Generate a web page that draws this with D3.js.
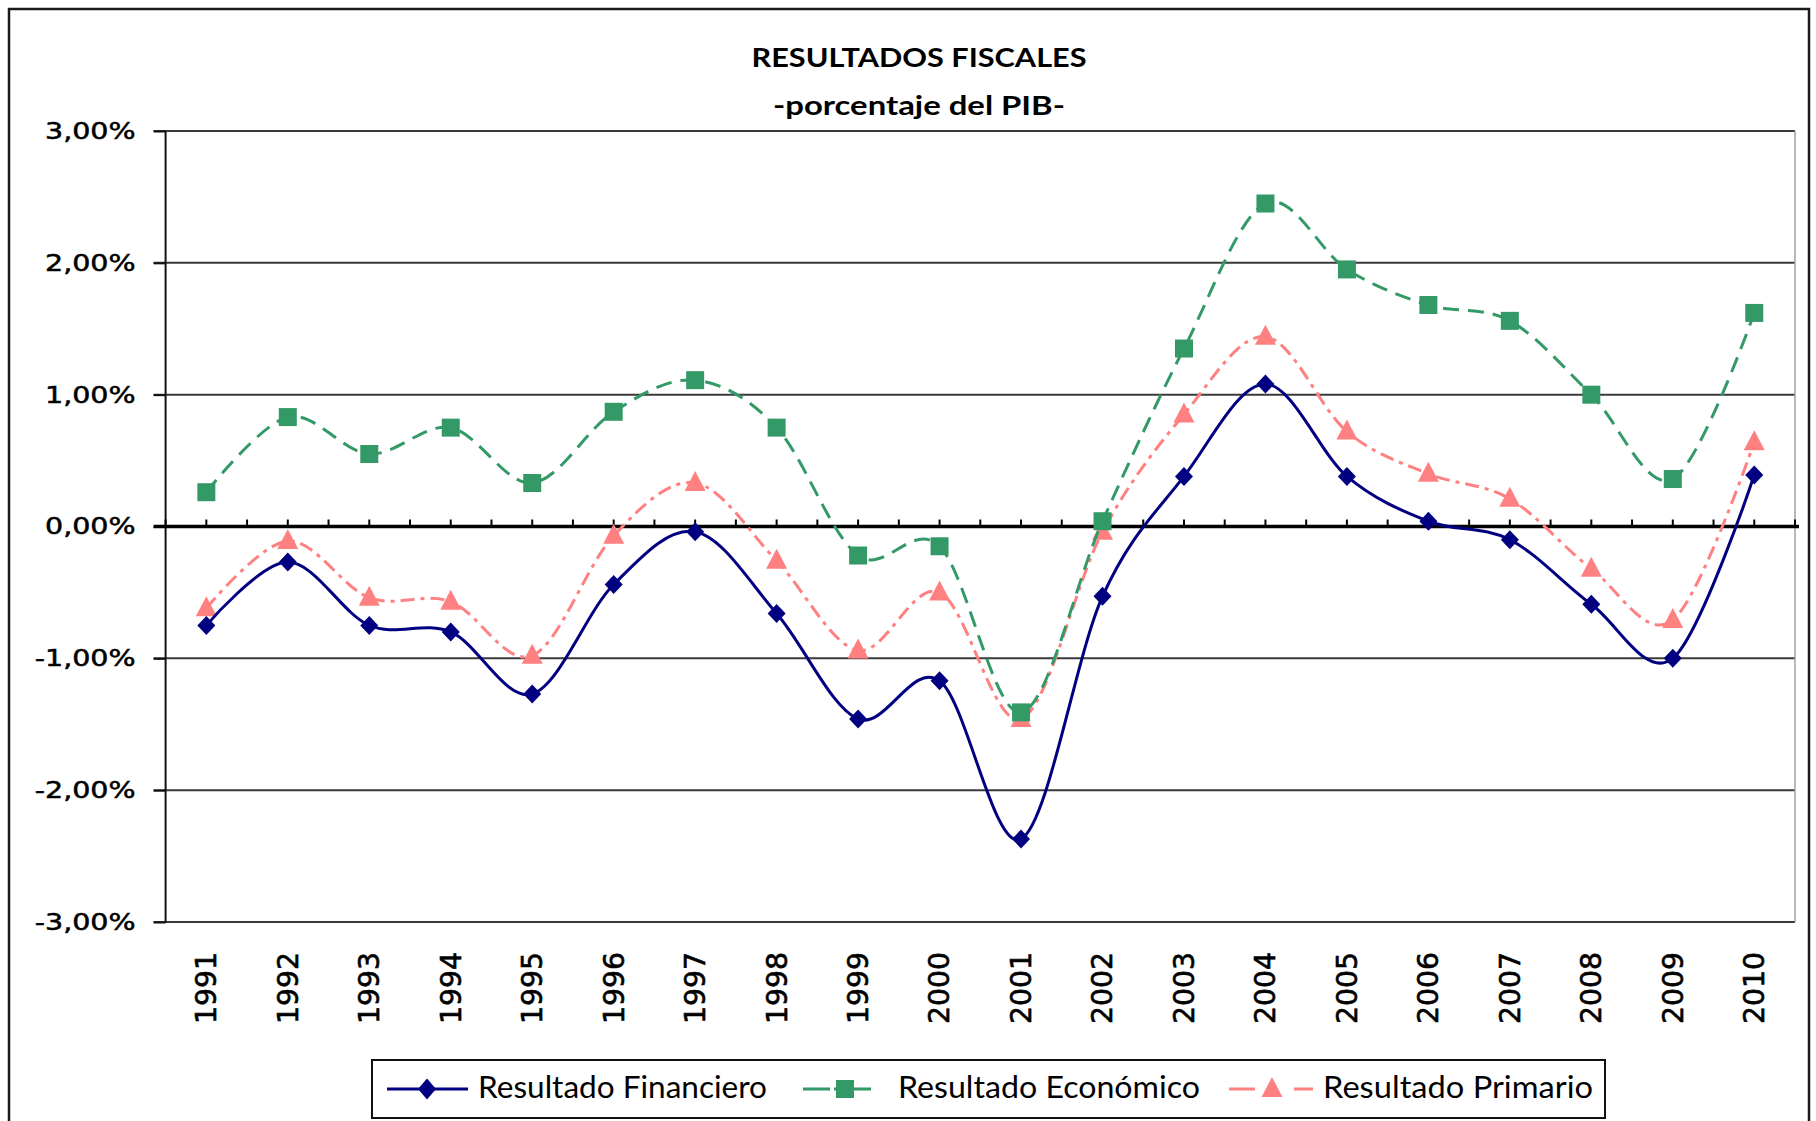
<!DOCTYPE html>
<html>
<head>
<meta charset="utf-8">
<script src="https://cdn.jsdelivr.net/npm/d3@7"></script>
<style>
    body { margin: 0; background: #ffffff; }
</style>
</head>
<body>
<div id="chart"></div>
<script>
// ===========================================================
// DATA
// ===========================================================
var years = ["1991", "1992", "1993", "1994", "1995", "1996", "1997", "1998", "1999", "2000",
    "2001", "2002", "2003", "2004", "2005", "2006", "2007", "2008", "2009", "2010"];

var financiero = [-0.75, -0.27, -0.75, -0.80, -1.27, -0.44, -0.04, -0.66, -1.46, -1.17,
    -2.37, -0.53, 0.38, 1.08, 0.38, 0.04, -0.10, -0.59, -1.00, 0.39];

var economico = [0.26, 0.83, 0.55, 0.75, 0.33, 0.87, 1.11, 0.75, -0.22, -0.15,
    -1.41, 0.04, 1.35, 2.45, 1.95, 1.68, 1.56, 1.00, 0.36, 1.62];

var primario = [-0.62, -0.11, -0.54, -0.57, -0.98, -0.07, 0.33, -0.26, -0.94, -0.50,
    -1.46, -0.04, 0.85, 1.44, 0.72, 0.40, 0.21, -0.32, -0.71, 0.64];

var yTicks = [3, 2, 1, 0, -1, -2, -3];

var seriesNames = ["Resultado Financiero", "Resultado Económico", "Resultado Primario"];

// ===========================================================
// SET MARGINS
// ===========================================================
var svgWidth = 1816;
var svgHeight = 1121;

var plot = { left: 165.6, right: 1795, top: 131, bottom: 922 };

// the original picture is stretched sideways, so text gets widened too
var hStretch = 1.24;

var svg = d3.select('#chart')
    .append('svg')
    .attr('width', svgWidth)
    .attr('height', svgHeight);

function fitWidth(sel, w) {
    sel.attr('textLength', w).attr('lengthAdjust', 'spacingAndGlyphs');
}

function stretch(sel, factor) {
    sel.each(function() {
        var w = this.getComputedTextLength();
        d3.select(this).attr('textLength', w * factor).attr('lengthAdjust', 'spacingAndGlyphs');
    });
}

// outer chart border
svg.append('rect')
    .attr('x', 9).attr('y', 9)
    .attr('width', 1800).attr('height', 1130)
    .attr('fill', '#ffffff')
    .attr('stroke', '#1a1a1a')
    .attr('stroke-width', 2.5);

// ===========================================================
// SCALES
// ===========================================================
var x = d3.scaleBand()
    .domain(years)
    .range([plot.left, plot.right])
    .padding(0);

var cx = function(year) { return x(year) + x.bandwidth() / 2; };

var y = d3.scaleLinear()
    .domain([-3, 3])
    .range([plot.bottom, plot.top]);

// ===========================================================
// TITLE
// ===========================================================
svg.append('text')
    .attr('x', 919).attr('y', 67)
    .attr('text-anchor', 'middle')
    .style('font-family', 'Lato, sans-serif')
    .style('font-weight', 'bold')
    .style('font-size', '26px')
    .text('RESULTADOS FISCALES')
    .call(fitWidth, 335);

svg.append('text')
    .attr('x', 919).attr('y', 115)
    .attr('text-anchor', 'middle')
    .style('font-family', 'Lato, sans-serif')
    .style('font-weight', 'bold')
    .style('font-size', '26px')
    .text('-porcentaje del PIB-')
    .call(fitWidth, 292);

// ===========================================================
// GRID + AXES
// ===========================================================
var gridGroup = svg.append('g');

gridGroup.selectAll('line')
    .data(yTicks.filter(function(d) { return d !== 0; }))
    .enter()
    .append('line')
    .attr('x1', plot.left - 12)
    .attr('x2', plot.right)
    .attr('y1', function(d) { return y(d); })
    .attr('y2', function(d) { return y(d); })
    .attr('stroke', '#3a3a3a')
    .attr('stroke-width', 2);

// plot area right border
svg.append('line')
    .attr('x1', plot.right).attr('x2', plot.right)
    .attr('y1', y(3)).attr('y2', y(-3))
    .attr('stroke', '#a0a0a0')
    .attr('stroke-width', 1.5);

// y axis
var yAxis = d3.axisLeft(y)
    .tickValues(yTicks)
    .tickSize(12)
    .tickPadding(18)
    .tickFormat(function(d) { return d3.format('.2f')(d).replace('.', ',').replace('\u2212', '-') + '%'; });

var yAxisGroup = svg.append('g')
    .attr('transform', 'translate(' + plot.left + ',0)')
    .call(yAxis);

yAxisGroup.select('.domain')
    .attr('stroke', '#111')
    .attr('stroke-width', 2)
    .attr('d', 'M0,' + y(3) + 'V' + y(-3));

yAxisGroup.selectAll('.tick line')
    .attr('stroke', '#111')
    .attr('stroke-width', 2);

yAxisGroup.selectAll('.tick text')
    .style('font-family', '"DejaVu Sans", sans-serif')
    .style('font-size', '23px')
    .attr('fill', '#000')
    .attr('stroke', '#000')
    .attr('stroke-width', 0.5)
    .call(stretch, hStretch);

// category axis along zero with ticks at centres and boundaries
var tickPos = [];
years.forEach(function(d) {
    tickPos.push(x(d));
    tickPos.push(cx(d));
});
tickPos.push(plot.right);

svg.append('g')
    .selectAll('line')
    .data(tickPos)
    .enter()
    .append('line')
    .attr('x1', function(d) { return d; })
    .attr('x2', function(d) { return d; })
    .attr('y1', y(0))
    .attr('y2', y(0) - 7)
    .attr('stroke', '#000')
    .attr('stroke-width', 2);

svg.append('line')
    .attr('x1', plot.left - 12).attr('x2', plot.right + 4)
    .attr('y1', y(0)).attr('y2', y(0))
    .attr('stroke', '#000')
    .attr('stroke-width', 3.5);

// year labels, rotated (widened across, as the rest of the picture)
svg.append('g')
    .selectAll('text')
    .data(years)
    .enter()
    .append('text')
    .attr('transform', function(d) { return 'translate(' + cx(d) + ',952) rotate(-90) scale(1,' + hStretch + ')'; })
    .attr('text-anchor', 'end')
    .attr('dominant-baseline', 'central')
    .style('font-family', '"DejaVu Sans", sans-serif')
    .style('font-size', '23px')
    .attr('stroke', '#000')
    .attr('stroke-width', 0.5)
    .text(function(d) { return d; })
    .call(fitWidth, 72);

// ===========================================================
// SERIES
// ===========================================================
var diamond = function(w, h) {
    return 'M0,' + (-h / 2) + 'L' + (w / 2) + ',0L0,' + (h / 2) + 'L' + (-w / 2) + ',0Z';
};

var series = [
    { name: seriesNames[0], values: financiero, color: '#000080', dash: null, marker: 'diamond' },
    { name: seriesNames[1], values: economico, color: '#339966', dash: '16,9', marker: 'square' },
    { name: seriesNames[2], values: primario, color: '#ff8080', dash: '14,6,4,6', marker: 'triangle' }
];

var symbolFor = {
    diamond: function() { return diamond(18, 19); },
    square: function() { return 'M-9,-9H9V9H-9Z'; },
    triangle: function() { return 'M0,-12L10.5,8H-10.5Z'; }
};

var line = d3.line()
    .x(function(d) { return cx(d.year); })
    .y(function(d) { return y(d.value); })
    .curve(d3.curveCardinal.tension(0));

// draw in reverse so the navy line sits on top
series.slice().reverse().forEach(function(s) {
    var pts = years.map(function(yr, i) { return { year: yr, value: s.values[i] }; });

    svg.append('path')
        .datum(pts)
        .attr('fill', 'none')
        .attr('stroke', s.color)
        .attr('stroke-width', 3)
        .attr('stroke-dasharray', s.dash)
        .attr('d', line);

    svg.append('g')
        .selectAll('path')
        .data(pts)
        .enter()
        .append('path')
        .attr('transform', function(d) { return 'translate(' + cx(d.year) + ',' + y(d.value) + ')'; })
        .attr('d', symbolFor[s.marker])
        .attr('fill', s.color);
});

// ===========================================================
// LEGEND
// ===========================================================
svg.append('rect')
    .attr('x', 372).attr('y', 1060)
    .attr('width', 1233).attr('height', 58)
    .attr('fill', '#fff')
    .attr('stroke', '#111')
    .attr('stroke-width', 2);

var legendItems = [
    { s: series[0], x1: 387, x2: 468, mx: 427, dash: null, textX: 478, textW: 289 },
    { s: series[1], x1: 803, x2: 871, mx: 845, dash: '27,4,40', textX: 898, textW: 302 },
    { s: series[2], x1: 1229, x2: 1313, mx: 1272, dash: '26,39,20', textX: 1323, textW: 270 }
];

var legendGroup = svg.append('g')
    .selectAll('g')
    .data(legendItems)
    .enter()
    .append('g');

legendGroup.append('line')
    .attr('x1', function(d) { return d.x1; })
    .attr('x2', function(d) { return d.x2; })
    .attr('y1', 1089).attr('y2', 1089)
    .attr('stroke', function(d) { return d.s.color; })
    .attr('stroke-width', 3)
    .attr('stroke-dasharray', function(d) { return d.dash; });

legendGroup.append('path')
    .attr('transform', function(d) { return 'translate(' + d.mx + ',1089)'; })
    .attr('d', function(d) { return d.s.marker === 'diamond' ? diamond(18, 21) : symbolFor[d.s.marker](); })
    .attr('fill', function(d) { return d.s.color; });

legendGroup.append('text')
    .attr('x', function(d) { return d.textX; })
    .attr('y', 1098)
    .style('font-family', 'Lato, sans-serif')
    .style('font-size', '30px')
    .text(function(d) { return d.s.name; })
    .each(function(d) { d3.select(this).call(fitWidth, d.textW); });
</script>
</body>
</html>
